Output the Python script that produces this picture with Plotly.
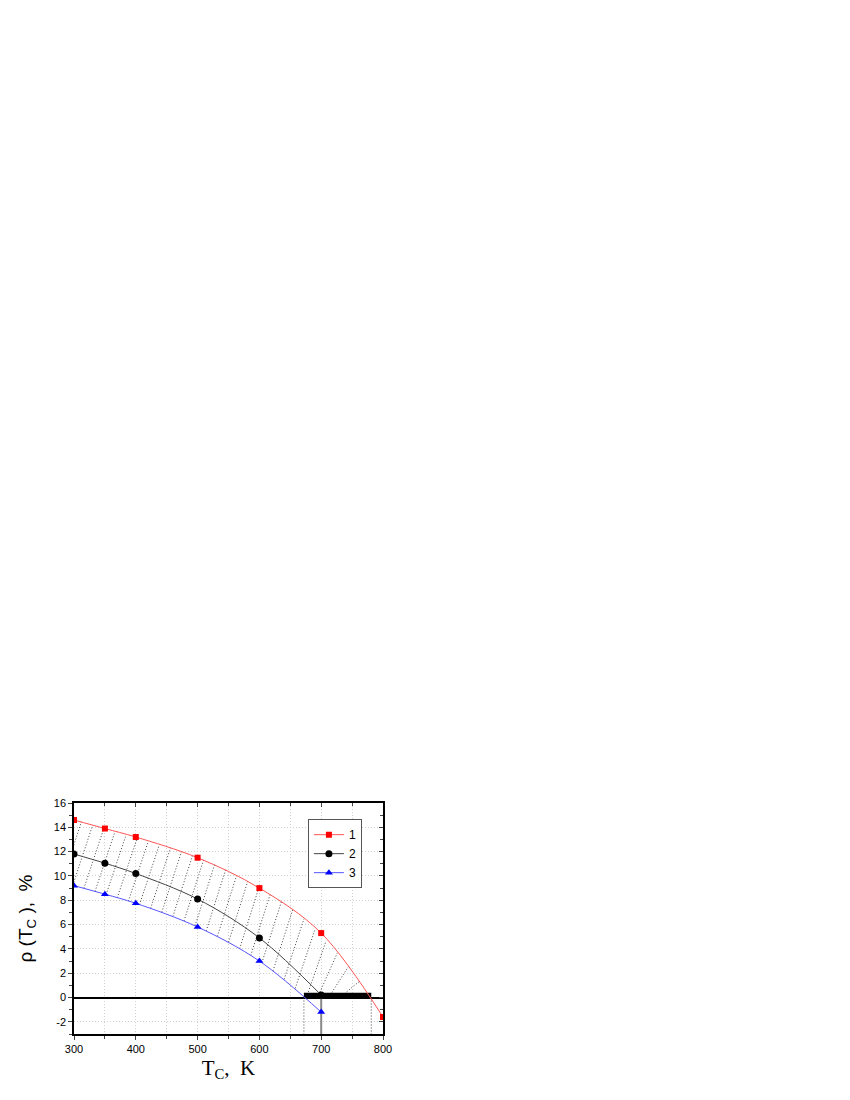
import numpy as np
import plotly.graph_objects as go

# data
tc = [300, 350, 400, 500, 600, 700]
tc1 = [300, 350, 400, 500, 600, 700, 800]
rho1 = [14.6, 13.9, 13.2, 11.5, 9.0, 5.3, -1.6]
rho2 = [11.8, 11.05, 10.2, 8.1, 4.9, 0.2]
rho3 = [9.2, 8.5, 7.75, 5.8, 3.0, -1.2]

y_ticks = [-2, 0, 2, 4, 6, 8, 10, 12, 14, 16]
y_labels = ['-2', '0', '2', '4', '6', '8', '10', '12', '14', '16']

# thick band on the zero line and its edges
band_x = [672, 781]
band_y = [0.15, 0.15]

# start points of the dotted hatching (lower edge)
hatch_x = list(range(280, 780, 18))
hatch_dx = 32

p1 = np.polyfit(tc1, rho1, 3)
p3 = np.polyfit(tc, rho3, 3)

fig = go.Figure()

dot = '1px,2px'

# hatching between curve 3 (or zero) and curve 1
for x0 in hatch_x:
    y0 = max(np.polyval(p3, x0), 0) if x0 <= 700 else 0
    x1 = x0 + hatch_dx
    y1 = np.polyval(p1, x1)
    if y1 <= y0:
        continue
    fig.add_trace(go.Scatter(x=[x0, x1], y=[y0, y1], mode='lines',
                             line=dict(color='#444444', width=1, dash=dot),
                             showlegend=False, hoverinfo='skip'))

# dotted drops from the band edges, grey drop at 700
for xb in band_x:
    fig.add_trace(go.Scatter(x=[xb, xb], y=[0, -3], mode='lines',
                             line=dict(color='#444444', width=1, dash=dot),
                             showlegend=False, hoverinfo='skip'))
fig.add_trace(go.Scatter(x=[tc[-1], tc[-1]], y=[rho2[-1], -3], mode='lines',
                         line=dict(color='#888888', width=2),
                         showlegend=False, hoverinfo='skip'))

fig.add_trace(go.Scatter(x=band_x, y=band_y, mode='lines',
                         line=dict(color='black', width=6),
                         showlegend=False, hoverinfo='skip'))

fig.add_trace(go.Scatter(x=tc1, y=rho1, name='1', mode='lines+markers',
                         line=dict(color='#ff5555', width=1, shape='spline'),
                         marker=dict(symbol='square', size=6, color='#ff0000')))
fig.add_trace(go.Scatter(x=tc, y=rho2, name='2', mode='lines+markers',
                         line=dict(color='#444444', width=1, shape='spline'),
                         marker=dict(symbol='circle', size=7, color='black')))
fig.add_trace(go.Scatter(x=tc, y=rho3, name='3', mode='lines+markers',
                         line=dict(color='#5555ff', width=1, shape='spline'),
                         marker=dict(symbol='triangle-up', size=7, color='#0000ff')))

# invisible trace to carry the mirrored top/right axes
fig.add_trace(go.Scatter(x=[300], y=[0], xaxis='x2', yaxis='y2', mode='markers',
                         marker=dict(opacity=0), showlegend=False, hoverinfo='skip'))

axis_common = dict(showline=True, linecolor='black', linewidth=1.5, automargin=False)
grid_col = '#cfcfcf'

fig.update_layout(
    width=850, height=1100,
    margin=dict(l=66, r=475, t=795, b=74),
    plot_bgcolor='white', paper_bgcolor='white',
    font=dict(family='Liberation Sans, Arial', size=11, color='black'),
    xaxis=dict(range=[300, 800], dtick=100, ticks='outside', ticklen=4,
               showgrid=True, gridcolor=grid_col, griddash=dot, gridwidth=1,
               zeroline=False,
               minor=dict(dtick=50, ticks='outside', ticklen=3, showgrid=True,
                          gridcolor=grid_col, griddash=dot),
               title=dict(text='T<sub>C</sub>,  K', standoff=6,
                          font=dict(family='Liberation Serif, Times New Roman', size=21)),
               **axis_common),
    yaxis=dict(range=[-3, 16], tickvals=y_ticks, ticktext=y_labels,
               ticks='outside', ticklen=4,
               showgrid=True, gridcolor=grid_col, griddash=dot, gridwidth=1,
               zeroline=True, zerolinecolor='black', zerolinewidth=1.5,
               minor=dict(dtick=1, ticks='outside', ticklen=3),
               title=dict(text='ρ (T<sub>C</sub> ),  %', standoff=16,
                          font=dict(family='Liberation Sans, Arial', size=19)),
               **axis_common),
    xaxis2=dict(range=[300, 800], overlaying='x', side='top', dtick=100,
                ticks='inside', ticklen=4, showticklabels=False, showgrid=False,
                zeroline=False, minor=dict(dtick=50, ticks='inside', ticklen=3),
                **axis_common),
    yaxis2=dict(range=[-3, 16], overlaying='y', side='right', anchor='x2', dtick=2,
                ticks='inside', ticklen=4, showticklabels=False, showgrid=False,
                zeroline=False, minor=dict(dtick=1, ticks='inside', ticklen=3),
                **axis_common),
    legend=dict(x=0.757, y=0.93, xanchor='left', yanchor='top',
                bgcolor='white', bordercolor='#555555', borderwidth=1,
                font=dict(family='Liberation Sans, Arial', size=12),
                tracegroupgap=0, itemwidth=30),
    showlegend=True,
)

fig.write_html("out.html")
